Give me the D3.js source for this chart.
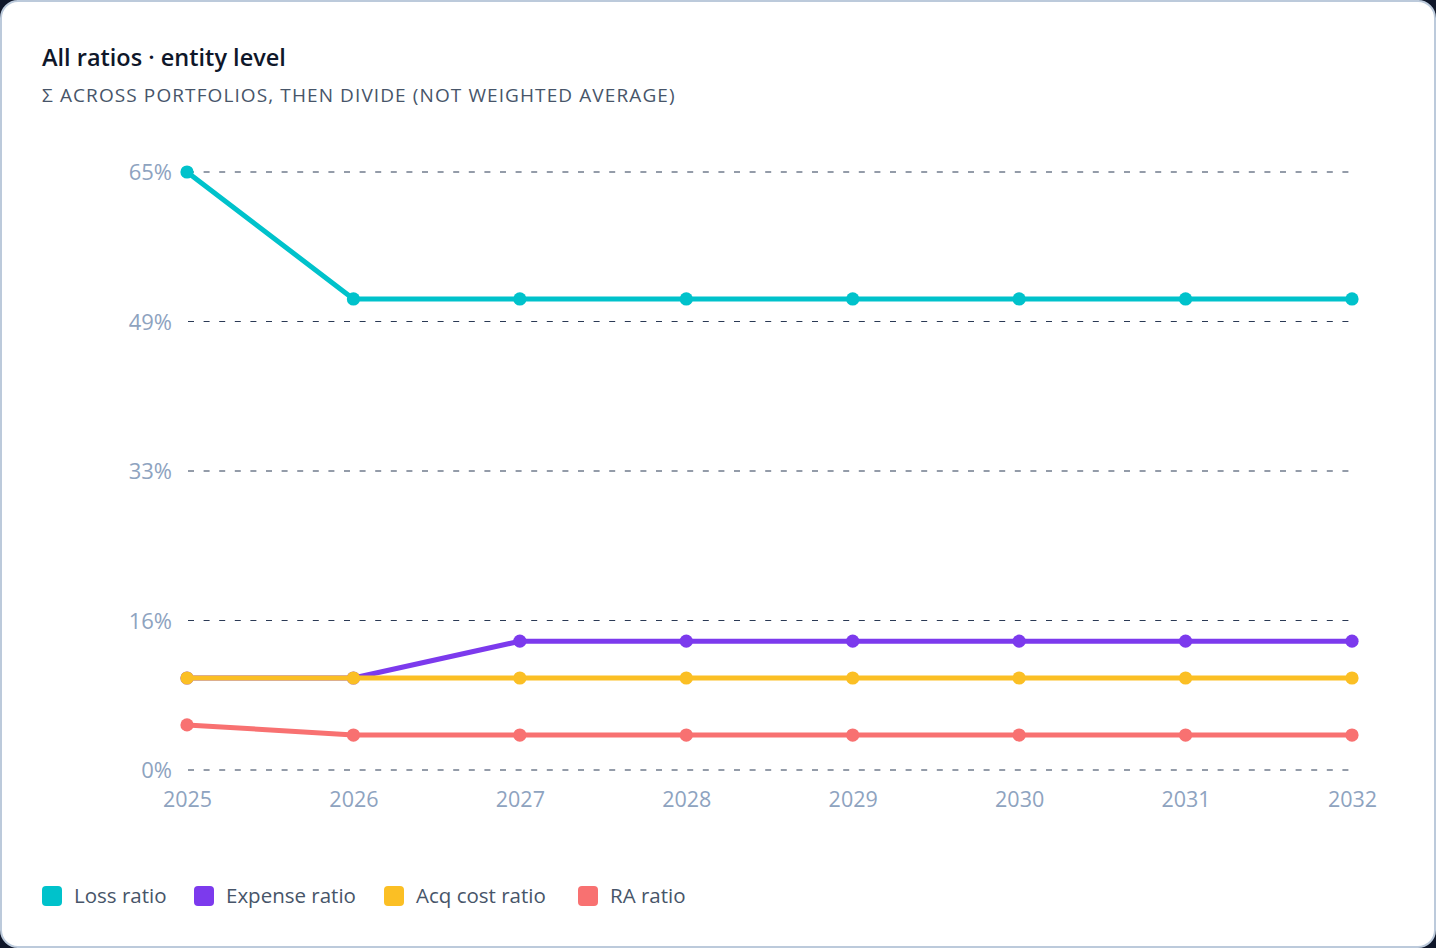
<!DOCTYPE html>
<html><head><meta charset="utf-8">
<script src="https://cdn.jsdelivr.net/npm/d3@7"></script>
<style>
html,body{margin:0;padding:0;background:#0f172a;width:1436px;height:948px;overflow:hidden;}
#card{position:absolute;left:0;top:0;width:1432px;height:944px;background:#fff;border:2px solid #bccadb;border-radius:18px;}
svg{position:absolute;left:0;top:0;}
text{font-family:"Open Sans","Noto Sans",sans-serif;}
</style></head>
<body><div id="card"></div>
<svg id="chart" width="1436" height="948"></svg>
<script>
const years = ["2025","2026","2027","2028","2029","2030","2031","2032"];
const lossRatio = [65.0, 51.2, 51.2, 51.2, 51.2, 51.2, 51.2, 51.2];
const expenseRatio = [10.0, 10.0, 14.0, 14.0, 14.0, 14.0, 14.0, 14.0];
const acqRatio = [10.0, 10.0, 10.0, 10.0, 10.0, 10.0, 10.0, 10.0];
const raRatio = [4.9, 3.8, 3.8, 3.8, 3.8, 3.8, 3.8, 3.8];
const seriesNames = ["Loss ratio","Expense ratio","Acq cost ratio","RA ratio"];
const seriesColors = ["#00c2cb","#7c3aed","#fbbf24","#f87171"];
const yTicks = [0, 16.25, 32.5, 48.75, 65];
const yTickLabels = ["0%","16%","33%","49%","65%"];

const series = [lossRatio, expenseRatio, acqRatio, raRatio].map((v,i)=>({name:seriesNames[i],color:seriesColors[i],values:v}));

const svg = d3.select("#chart");
svg.append("text").attr("x",42).attr("y",66).attr("font-size",23.5).attr("font-weight",600)
  .attr("fill","#0f172a").text("All ratios · entity level");
svg.append("text").attr("x",42).attr("y",102).attr("font-size",19).attr("letter-spacing",1.1)
  .attr("fill","#475569").text("Σ ACROSS PORTFOLIOS, THEN DIVIDE (NOT WEIGHTED AVERAGE)");

const x = d3.scalePoint().domain(years).range([187,1352]);
const y = d3.scaleLinear().domain([0,65]).range([770,172]);

const grid = svg.append("g");
grid.selectAll("line").data(yTicks).join("line")
  .attr("x1",188).attr("x2",1350).attr("y1",d=>y(d)).attr("y2",d=>y(d))
  .attr("stroke","#2b3a55").attr("stroke-width",1.2).attr("stroke-dasharray","6,9.6");

const yAxis = d3.axisLeft(y).tickValues(yTicks).tickFormat((d,i)=>yTickLabels[i]).tickSize(0).tickPadding(0);
const ya = svg.append("g").attr("transform","translate(172,0)").call(yAxis);
ya.select(".domain").remove();
ya.selectAll("text").attr("font-size",22).attr("fill","#8ea3bf").attr("font-family","'Open Sans','Noto Sans',sans-serif").attr("dy","0.35em");

const xAxis = d3.axisBottom(x).tickSize(0).tickPadding(0);
const xa = svg.append("g").attr("transform","translate(0,792)").call(xAxis);
xa.select(".domain").remove();
xa.selectAll("text").attr("font-size",21.5).attr("fill","#8ea3bf").attr("font-family","'Open Sans','Noto Sans',sans-serif").attr("dy","0.71em");

const line = d3.line().x((d,i)=>x(years[i])).y(d=>y(d));
series.forEach(s=>{
  const g = svg.append("g");
  g.append("path").attr("d",line(s.values)).attr("fill","none").attr("stroke",s.color).attr("stroke-width",5)
    .attr("stroke-linejoin","round");
  g.selectAll("circle").data(s.values).join("circle")
    .attr("cx",(d,i)=>x(years[i])).attr("cy",d=>y(d)).attr("r",6.6).attr("fill",s.color);
});

const legendX = [42,194,384,578];
const lg = svg.append("g");
series.forEach((s,i)=>{
  lg.append("rect").attr("x",legendX[i]).attr("y",886).attr("width",20).attr("height",20).attr("rx",4).attr("fill",s.color);
  lg.append("text").attr("x",legendX[i]+32).attr("y",896).attr("dy","0.35em").attr("font-size",20.5).attr("fill","#475569").text(s.name);
});
</script>
</body></html>
